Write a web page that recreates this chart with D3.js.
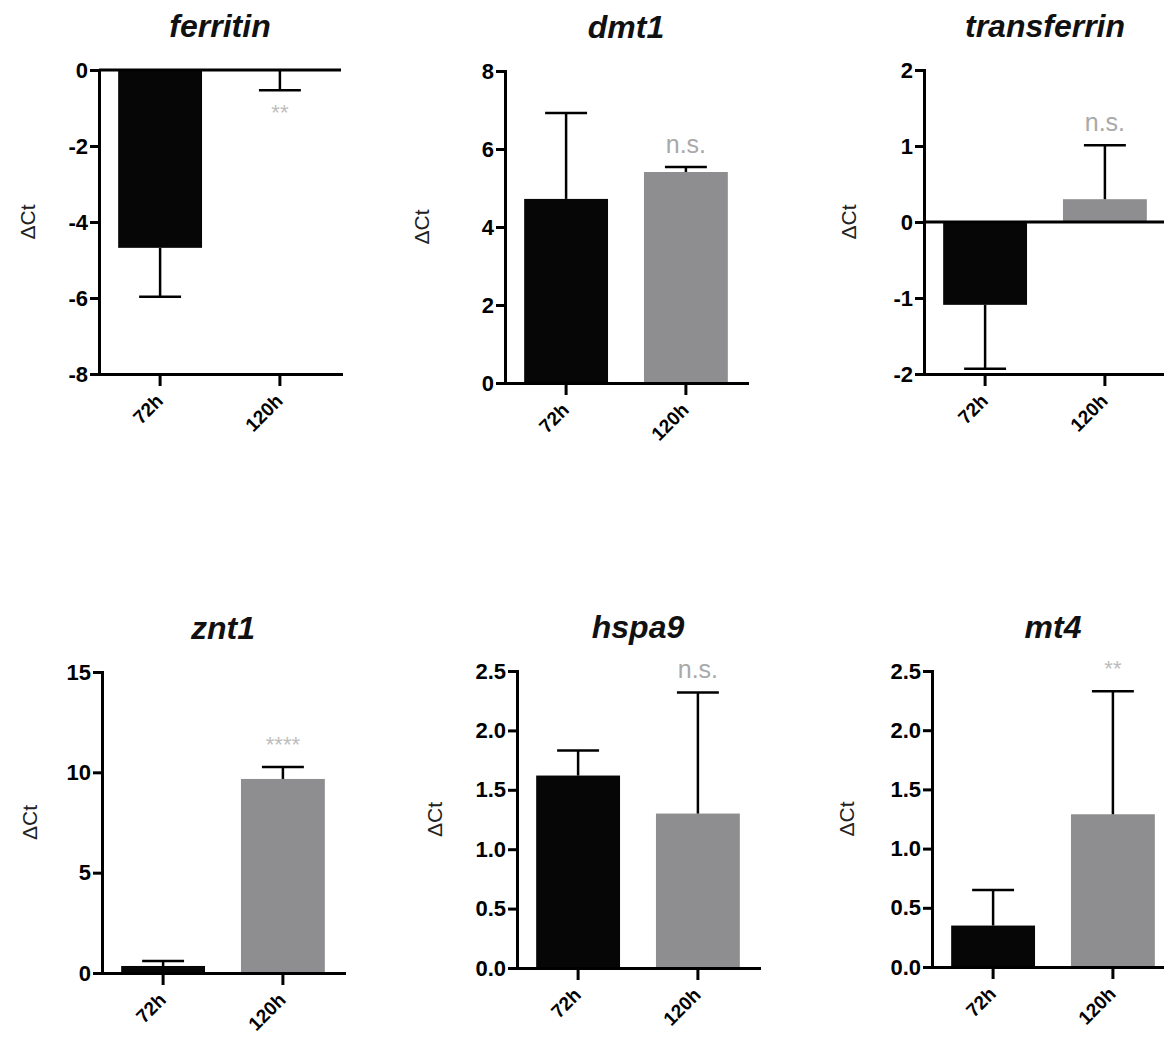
<!DOCTYPE html>
<html>
<head>
<meta charset="utf-8">
<script src="https://cdn.jsdelivr.net/npm/d3@7"></script>
<style>
  body { margin: 0; background: #fff; }
  svg { display: block; font-family: "Liberation Sans", Arial, sans-serif; }
</style>
</head>
<body>
<div id="chart"></div>
<script>
// values (delta Ct, mean and error)
const genes = ["ferritin", "dmt1", "transferrin", "znt1", "hspa9", "mt4"];
const timepoints = ["72h", "120h"];
const mean72 = [-4.68, 4.72, -1.09, 0.35, 1.62, 0.35];
const mean120 = [-0.02, 5.41, 0.30, 9.67, 1.30, 1.29];
const err72 = [1.29, 2.20, 0.84, 0.25, 0.21, 0.30];
const err120 = [0.51, 0.13, 0.71, 0.60, 1.02, 1.04];
const yDomains = [[-8, 0], [0, 8], [-2, 2], [0, 15], [0, 2.5], [0, 2.5]];
const yTickSteps = [2, 2, 1, 5, 0.5, 0.5];
const signif = ["**", "n.s.", "n.s.", "****", "n.s.", "**"];

// panel placement
const axisLeft = [99, 505, 924, 102, 517, 932];
const plotTop = [70, 71, 70, 672, 671, 671];
const plotBottom = [374, 383, 374, 973, 968, 967];
const ylabOffset = [-71, -83, -75, -72, -82, -85];
const plotW = 242;
const barColors = ["#060606", "#8e8e91"];

const svg = d3.select("#chart").append("svg")
  .attr("width", 1164)
  .attr("height", 1037);

svg.append("rect").attr("width", 1164).attr("height", 1037).attr("fill", "#fff");

genes.forEach((gene, i) => {
  const ax = axisLeft[i];
  const g = svg.append("g");
  const [lo, hi] = yDomains[i];
  const step = yTickSteps[i];

  const y = d3.scaleLinear().domain([lo, hi]).range([plotBottom[i], plotTop[i]]);
  const x = d3.scaleBand().domain(timepoints)
    .range([ax, ax + plotW])
    .paddingInner(0.3)
    .paddingOuter(0.16);

  const rows = timepoints.map((t, j) => ({
    t,
    v: j === 0 ? mean72[i] : mean120[i],
    e: j === 0 ? err72[i] : err120[i],
    color: barColors[j]
  }));

  // bars
  g.selectAll(".bar").data(rows).enter().append("rect")
    .attr("x", d => x(d.t))
    .attr("width", x.bandwidth())
    .attr("y", d => y(Math.max(0, d.v)))
    .attr("height", d => Math.abs(y(d.v) - y(0)))
    .attr("fill", d => d.color);

  // error bars, one sided away from zero
  const errEnd = d => d.v + (d.v < 0 ? -d.e : d.e);
  const cx = d => x(d.t) + x.bandwidth() / 2;
  const capW = x.bandwidth() / 2;

  g.selectAll(".err").data(rows).enter().append("line")
    .attr("x1", cx).attr("x2", cx)
    .attr("y1", d => y(d.v)).attr("y2", d => y(errEnd(d)))
    .attr("stroke", "#000").attr("stroke-width", 2.5);

  g.selectAll(".cap").data(rows).enter().append("line")
    .attr("x1", d => cx(d) - capW / 2).attr("x2", d => cx(d) + capW / 2)
    .attr("y1", d => y(errEnd(d))).attr("y2", d => y(errEnd(d)))
    .attr("stroke", "#000").attr("stroke-width", 2.5);

  // y axis
  const fmt = step < 1 ? (d => d.toFixed(1)) : (d => String(d));
  const yAxis = g.append("g")
    .attr("transform", `translate(${ax},0)`)
    .call(d3.axisLeft(y)
      .tickValues(d3.range(lo, hi + step / 2, step))
      .tickSize(9)
      .tickSizeOuter(0)
      .tickPadding(2)
      .tickFormat(fmt));

  // zero line when the axis runs below zero
  if (lo < 0) {
    g.append("line")
      .attr("x1", ax).attr("x2", ax + plotW)
      .attr("y1", y(0)).attr("y2", y(0))
      .attr("stroke", "#000").attr("stroke-width", 3);
  }

  // x axis at the bottom of the range
  const xAxis = g.append("g")
    .attr("transform", `translate(0,${y(lo)})`)
    .call(d3.axisBottom(x).tickSize(12).tickSizeOuter(0).tickFormat(""));

  [yAxis, xAxis].forEach(a => {
    a.select(".domain").attr("stroke-width", 3).attr("stroke-linecap", "square");
    a.selectAll(".tick line").attr("stroke-width", 3);
  });
  yAxis.selectAll(".tick text")
    .attr("font-size", 22)
    .attr("font-weight", "bold")
    .attr("fill", "#000");

  // rotated category labels
  g.selectAll(".xlab").data(timepoints).enter().append("text")
    .attr("transform", d => `translate(${x(d) + x.bandwidth() / 2 + 4},${y(lo) + 28}) rotate(-45)`)
    .attr("text-anchor", "end")
    .attr("font-size", 19)
    .attr("font-weight", "bold")
    .attr("fill", "#000")
    .text(d => d);

  // y label
  const midY = (plotTop[i] + plotBottom[i]) / 2;
  g.append("text")
    .attr("transform", `translate(${ax + ylabOffset[i] + 7},${midY}) rotate(-90)`)
    .attr("text-anchor", "middle")
    .attr("font-size", 21)
    .attr("fill", "#222")
    .text("ΔCt");

  // title
  g.append("text")
    .attr("x", ax + plotW / 2)
    .attr("y", plotTop[i] - 33)
    .attr("text-anchor", "middle")
    .attr("font-size", 32)
    .attr("font-weight", "bold")
    .attr("font-style", "italic")
    .attr("fill", "#111")
    .text(gene);

  // significance mark over the 120h bar
  const r = rows[1];
  const capY = y(errEnd(r));
  const isNs = signif[i] === "n.s.";
  const below = r.v < 0;
  g.append("text")
    .attr("x", cx(r))
    .attr("y", below ? capY + 30 : capY - (isNs ? 14 : 15))
    .attr("text-anchor", "middle")
    .attr("font-size", isNs ? 25 : 22)
    .attr("fill", isNs ? "#a9a9a9" : "#bdbdbd")
    .text(signif[i]);
});
</script>
</body>
</html>
